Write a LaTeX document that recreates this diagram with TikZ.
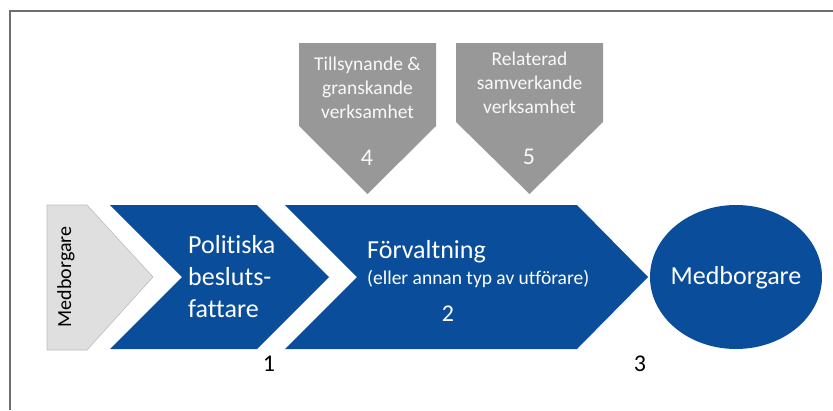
\documentclass[tikz,border=0pt]{standalone}
\usepackage{fontspec}
\setmainfont{Carlito}[RawFeature=-liga]
\definecolor{blu}{RGB}{10,78,155}
\definecolor{pgray}{RGB}{152,152,152}
\definecolor{lgray}{RGB}{223,223,223}
\definecolor{lgborder}{RGB}{190,190,190}
\definecolor{frame}{RGB}{110,110,110}
\begin{document}
\begin{tikzpicture}[x=1pt,y=-1pt,
  bluefill/.style={fill=blu,draw=none},
  grayarrow/.style={fill=pgray,draw=none},
  wtext/.style={text=white,inner sep=0pt,font=\fontsize{26}{32}\selectfont},
  gtext/.style={text=white!95!gray,inner sep=0pt,align=center,font=\fontsize{19.5}{24}\selectfont},
  ntext/.style={text=black,inner sep=0pt,font=\fontsize{24}{28}\selectfont}]
\useasboundingbox (0,0) rectangle (833,410);
\fill[white] (0,0) rectangle (833,410);
% frame
\draw[frame,line width=1.1pt] (10,410) -- (10,11) -- (833,11);
% gray chevron
\draw[fill=lgray,draw=lgborder,line width=0.6pt] (47,205) -- (87,205) -- (153,277) -- (87,350) -- (47,350) -- cycle;
\node[rotate=90,inner sep=0pt,font=\fontsize{20}{24}\selectfont] (med1) at (66,277) {Medborgare};
% blue chevron 1
\fill[bluefill] (110,205) -- (257,205) -- (329,277) -- (257,349) -- (110,349) -- (182,277) -- cycle;
\node[wtext,align=left,anchor=west] (pol) at (188,277) {Politiska\\besluts-\\fattare};
% blue chevron 2
\fill[bluefill] (285,205) -- (577,205) -- (648,277) -- (577,349) -- (285,349) -- (357,277) -- cycle;
\node[wtext,anchor=west] (forv) at (367,252) {Förvaltning};
\node[text=white,inner sep=0pt,anchor=west,font=\fontsize{19.5}{24}\selectfont] (eller) at (367,279) {(eller annan typ av utförare)};
\node[text=white,inner sep=0pt,font=\fontsize{24}{28}\selectfont] (n2) at (448,314) {2};
% ellipse
\fill[bluefill] (736,277) ellipse [x radius=86,y radius=72];
\node[wtext] (med2) at (736,278) {Medborgare};
% gray down arrows
\fill[grayarrow] (299,43) -- (436,43) -- (436,126) -- (367.5,194) -- (299,126) -- cycle;
\node[gtext] (tills) at (367.5,88) {Tillsynande \&\\granskande\\verksamhet};
\node[text=white!95!gray,inner sep=0pt,font=\fontsize{24}{28}\selectfont] (n4) at (367,158) {4};
\fill[grayarrow] (456,43) -- (603,43) -- (603,122) -- (529.5,194) -- (456,122) -- cycle;
\node[gtext] (rel) at (529.5,83) {Relaterad\\samverkande\\verksamhet};
\node[text=white!95!gray,inner sep=0pt,font=\fontsize{24}{28}\selectfont] (n5) at (529,157) {5};
% numbers
\node[ntext] (n1) at (269,364) {1};
\node[ntext] (n3) at (640,364) {3};
\end{tikzpicture}
\end{document}
